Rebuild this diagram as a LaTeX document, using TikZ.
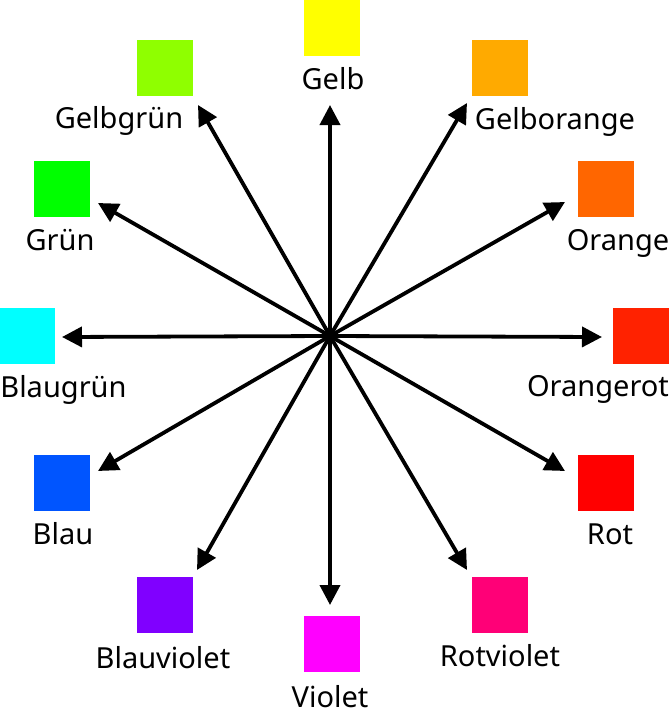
\documentclass[tikz,border=0pt]{standalone}
\usepackage{fontspec}
\setmainfont{Noto Sans}
\usetikzlibrary{arrows.meta}
\definecolor{cGelb}{HTML}{FFFF00}
\definecolor{cGelborange}{HTML}{FFAA00}
\definecolor{cOrange}{HTML}{FF6600}
\definecolor{cOrangerot}{HTML}{FF2200}
\definecolor{cRot}{HTML}{FF0000}
\definecolor{cRotviolet}{HTML}{FF0077}
\definecolor{cViolet}{HTML}{FF00FF}
\definecolor{cBlauviolet}{HTML}{8000FF}
\definecolor{cBlau}{HTML}{0055FF}
\definecolor{cBlaugruen}{HTML}{00FFFF}
\definecolor{cGruen}{HTML}{00FF00}
\definecolor{cGelbgruen}{HTML}{8FFF00}
\tikzset{
  swatch/.style={fill=#1, draw=none, minimum size=56pt, inner sep=0pt, outer sep=0pt},
  lbl/.style={anchor=base, inner sep=0pt, font=\fontsize{29}{35}\selectfont},
  spoke/.style={line width=3.8pt, -{Triangle[length=20pt,width=20pt]}}
}
\begin{document}
\begin{tikzpicture}[x=1pt,y=-1pt]
\useasboundingbox (0,0) rectangle (670,718);
% squares
\node[swatch=cGelb] (sGelb) at (332,27.5) {};
\node[swatch=cGelborange] (sGelborange) at (500,68) {};
\node[swatch=cOrange] (sOrange) at (606,189) {};
\node[swatch=cOrangerot] (sOrangerot) at (641,336) {};
\node[swatch=cRot] (sRot) at (606,483) {};
\node[swatch=cRotviolet] (sRotviolet) at (500,605) {};
\node[swatch=cViolet] (sViolet) at (332,644) {};
\node[swatch=cBlauviolet] (sBlauviolet) at (165,605) {};
\node[swatch=cBlau] (sBlau) at (62,483) {};
\node[swatch=cBlaugruen] (sBlaugruen) at (27,336) {};
\node[swatch=cGruen] (sGruen) at (62,189) {};
\node[swatch=cGelbgruen] (sGelbgruen) at (165,68) {};
% labels
\node[lbl] (lGelb) at (333,89) {Gelb};
\node[lbl] (lGelborange) at (555,129) {Gelborange};
\node[lbl] (lOrange) at (618,250) {Orange};
\node[lbl] (lOrangerot) at (598,396) {Orangerot};
\node[lbl] (lRot) at (610,544) {Rot};
\node[lbl] (lRotviolet) at (500,666) {Rotviolet};
\node[lbl] (lViolet) at (330,707) {Violet};
\node[lbl] (lBlauviolet) at (163,668) {Blauviolet};
\node[lbl] (lBlau) at (63,544) {Blau};
\node[lbl] (lBlaugruen) at (63.5,397) {Blaugrün};
\node[lbl] (lGruen) at (60,250) {Grün};
\node[lbl] (lGelbgruen) at (119,128) {Gelbgrün};
% centre and arrow tips
\coordinate (c) at (330,336);
\coordinate (tGelb) at (330,105);
\coordinate (tGelborange) at (467,103);
\coordinate (tOrange) at (565,202);
\coordinate (tOrangerot) at (602,337);
\coordinate (tRot) at (565,471);
\coordinate (tRotviolet) at (467,570);
\coordinate (tViolet) at (330,605);
\coordinate (tBlauviolet) at (197,570);
\coordinate (tBlau) at (98,471);
\coordinate (tBlaugruen) at (62,337);
\coordinate (tGruen) at (98,203);
\coordinate (tGelbgruen) at (198,105);
\foreach \t in {Gelb,Gelborange,Orange,Orangerot,Rot,Rotviolet,Violet,Blauviolet,Blau,Blaugruen,Gruen,Gelbgruen}
  \draw[spoke] (c) -- (t\t);
\end{tikzpicture}
\end{document}
